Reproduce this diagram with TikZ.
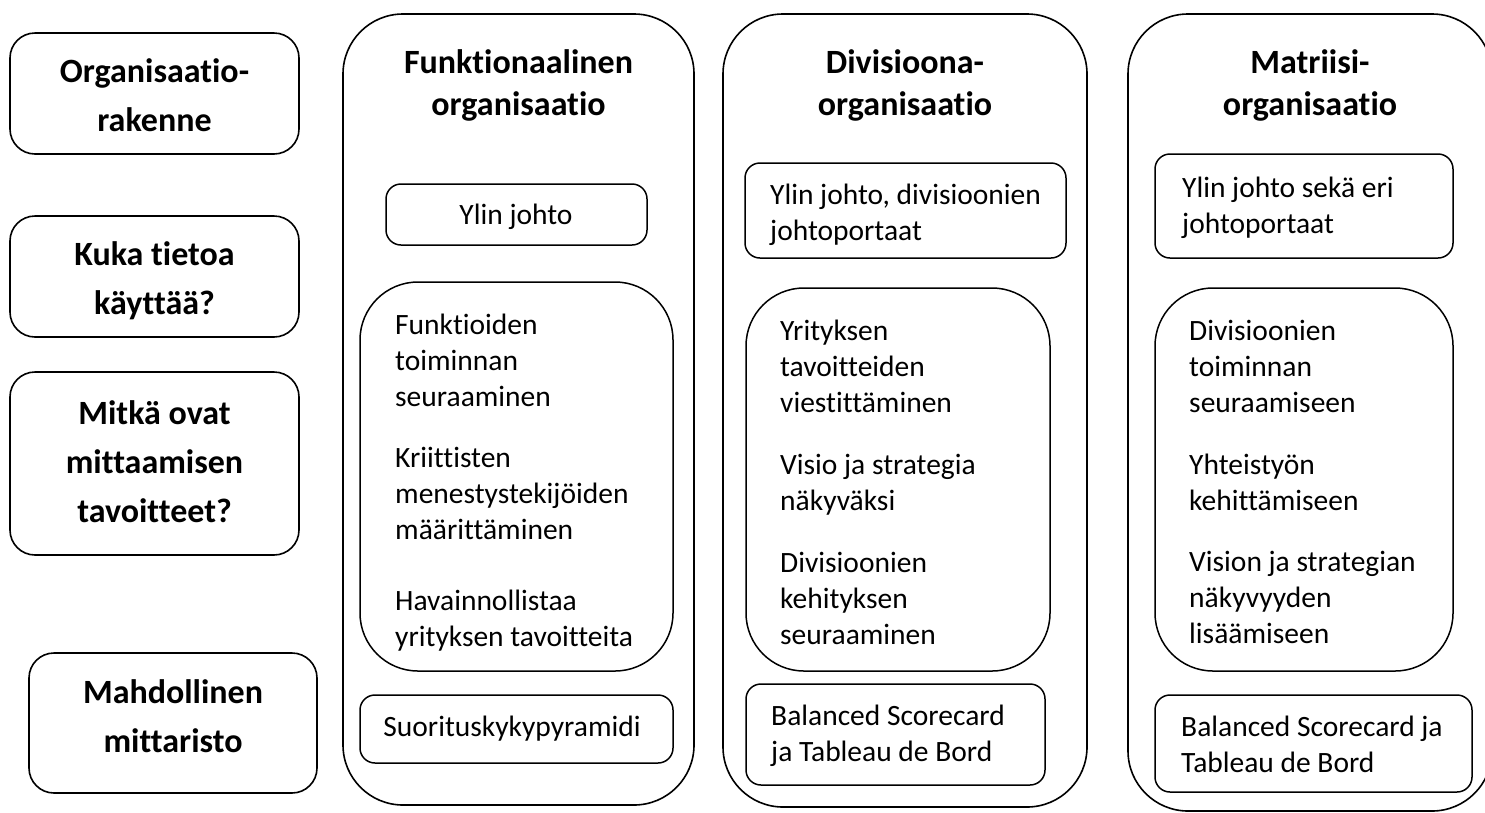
\documentclass[tikz,border=0pt]{standalone}
\usepackage{fontspec}
\setmainfont{Carlito}[Ligatures={NoCommon}]
\usetikzlibrary{fit}
\newcommand\Lines[2][l]{\begin{tabular}[t]{@{}#1@{}}#2\end{tabular}}
\tikzset{
  bigbox/.style={draw, line width=1.6pt, rounded corners=60pt, inner sep=0pt},
  midbox/.style={draw, line width=1.5pt, rounded corners=58pt, inner sep=0pt},
  smallbox/.style={draw, line width=1.5pt, rounded corners=15pt, inner sep=0pt},
  leftbox/.style={draw, line width=1.6pt, rounded corners=25pt, inner sep=0pt},
  body/.style={inner sep=0pt, anchor=base west, font=\fontsize{29.5}{36}\selectfont},
  bodyc/.style={inner sep=0pt, anchor=base, font=\fontsize{29.5}{36}\selectfont},
  head/.style={inner sep=0pt, anchor=base, font=\fontsize{34}{42}\selectfont\bfseries},
  lefthead/.style={inner sep=0pt, anchor=base, font=\fontsize{34}{49}\selectfont\bfseries},
}
\begin{document}
\begin{tikzpicture}[x=1pt, y=-1pt]
\useasboundingbox (0,0) rectangle (1485,812);
\fill[white] (0,0) rectangle (1485,812);

% left column
\node[leftbox, fit={(10,33) (299,154)}] (L1) {};
\node[lefthead] (L1t) at (154.5,82) {\Lines[c]{Organisaatio-\\rakenne}};
\node[leftbox, fit={(10,216) (299,337)}] (L2) {};
\node[lefthead] (L2t) at (154.5,265) {\Lines[c]{Kuka tietoa\\käyttää?}};
\node[leftbox, fit={(10,372) (299,555)}] (L3) {};
\node[lefthead] (L3t) at (154.5,424) {\Lines[c]{Mitkä ovat\\mittaamisen\\tavoitteet?}};
\node[leftbox, fit={(29,653) (317,793)}] (L4) {};
\node[lefthead] (L4t) at (173,703) {\Lines[c]{Mahdollinen\\mittaristo}};

% Funktionaalinen
\node[bigbox, fit={(343,14) (694,805)}] (F) {};
\node[head] (Ft) at (518.5,73) {\Lines[c]{Funktionaalinen\\organisaatio}};
\node[smallbox, fit={(386,184) (647,245)}] (F1) {};
\node[bodyc] (F1t) at (516,224) {Ylin johto};
\node[midbox, fit={(360,282) (673,671)}] (F2) {};
\node[body] (F2a) at (395,334) {\Lines{Funktioiden\\toiminnan\\seuraaminen}};
\node[body] (F2b) at (395,467) {\Lines{Kriittisten\\menestystekijöiden\\määrittäminen}};
\node[body] (F2c) at (395,610) {\Lines{Havainnollistaa\\yrityksen tavoitteita}};
\node[smallbox, fit={(360,695) (673,763)}] (F3) {};
\node[bodyc] (F3t) at (512,736) {Suorituskykypyramidi};

% Divisioona
\node[bigbox, fit={(723,14) (1087,807)}] (D) {};
\node[head] (Dt) at (905,73) {\Lines[c]{Divisioona-\\organisaatio}};
\node[smallbox, fit={(745,163) (1066,258)}] (D1) {};
\node[body] (D1t) at (770,204) {\Lines{Ylin johto, divisioonien\\johtoportaat}};
\node[midbox, fit={(746,288) (1050,671)}] (D2) {};
\node[body] (D2a) at (780,340) {\Lines{Yrityksen\\tavoitteiden\\viestittäminen}};
\node[body] (D2b) at (780,474) {\Lines{Visio ja strategia\\näkyväksi}};
\node[body] (D2c) at (780,572) {\Lines{Divisioonien\\kehityksen\\seuraaminen}};
\node[smallbox, fit={(746,684) (1045,785)}] (D3) {};
\node[body] (D3t) at (771,725) {\Lines{Balanced Scorecard\\ja Tableau de Bord}};

% Matriisi
\node[bigbox, fit={(1128,14) (1492,811)}] (M) {};
\node[head] (Mt) at (1310,73) {\Lines[c]{Matriisi-\\organisaatio}};
\node[smallbox, fit={(1155,154) (1453,258)}] (M1) {};
\node[body] (M1t) at (1182,197) {\Lines{Ylin johto sekä eri\\johtoportaat}};
\node[midbox, fit={(1155,288) (1453,671)}] (M2) {};
\node[body] (M2a) at (1189,340) {\Lines{Divisioonien\\toiminnan\\seuraamiseen}};
\node[body] (M2b) at (1189,474) {\Lines{Yhteistyön\\kehittämiseen}};
\node[body] (M2c) at (1189,571) {\Lines{Vision ja strategian\\näkyvyyden\\lisäämiseen}};
\node[smallbox, fit={(1155,695) (1472,792)}] (M3) {};
\node[body] (M3t) at (1181,736) {\Lines{Balanced Scorecard ja\\Tableau de Bord}};
\end{tikzpicture}
\end{document}
